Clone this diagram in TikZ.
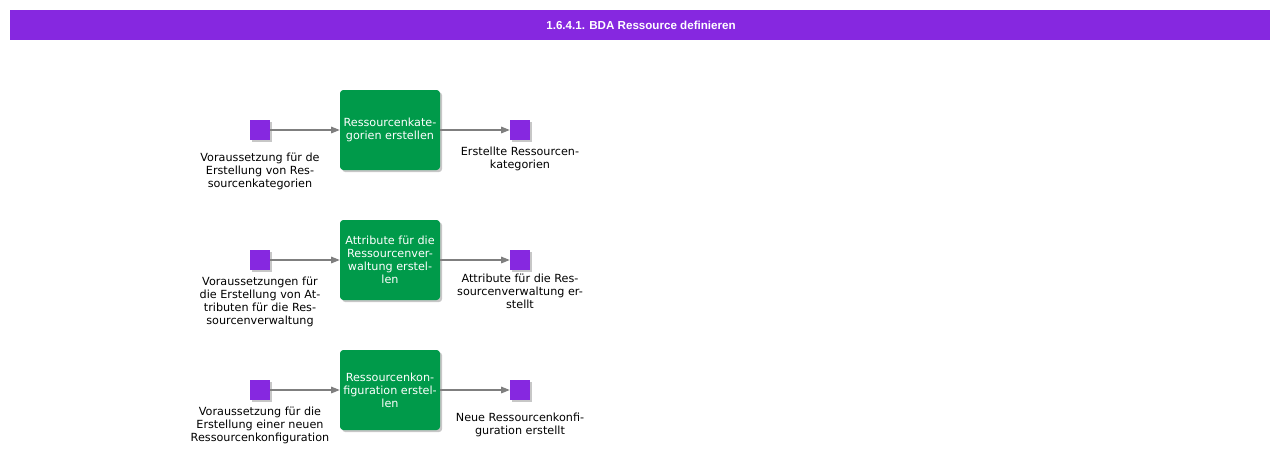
\documentclass[tikz,border=0pt]{standalone}
\usepackage{fontspec}
\setmainfont{DejaVu Sans}
\newfontfamily\headfont{Liberation Sans}
\usetikzlibrary{positioning,shadows,arrows.meta}
\definecolor{bdapurple}{HTML}{8628E0}
\definecolor{bdagreen}{HTML}{009A4A}
\definecolor{bdagray}{HTML}{7F7F7F}
\tikzset{
  soft shadow/.style={drop shadow={shadow xshift=1.6pt,shadow yshift=-1.6pt,opacity=0.22,fill=black}},
  event/.style={fill=bdapurple,minimum size=15pt,inner sep=0pt,soft shadow},
  task/.style={fill=bdagreen,rounded corners=2.5pt,minimum width=75pt,minimum height=60pt,
    inner sep=0pt,align=center,text=white,font=\fontsize{8.4}{9.8}\selectfont,soft shadow},
  caption/.style={align=center,inner sep=0pt,font=\fontsize{8.4}{9.8}\selectfont},
  flow/.style={draw=bdagray,line width=0.8pt,-{Triangle[length=6.5pt,width=5pt]}}
}
\begin{document}
\begin{tikzpicture}[x=0.75pt,y=-0.75pt]
\useasboundingbox (0,0) rectangle (1280,464);

% Title bar
\fill[bdapurple] (10,10) rectangle (1270,40);
\node[text=white,font=\headfont\bfseries\fontsize{8.7}{10}\selectfont] (title) at (641,25) {1.6.4.1. BDA Ressource definieren};

% Row 1
\node[event] (in1) at (260,130) {};
\node[task] (task1) at (390,130) {Ressourcenkate-\\gorien erstellen};
\node[event] (out1) at (520,130) {};
\node[caption,below=9.5pt of in1] (inlabel1) {Voraussetzung für de\\Erstellung von Res-\\sourcenkategorien};
\node[caption,below=4.5pt of out1] (outlabel1) {Erstellte Ressourcen-\\kategorien};
\draw[flow] (in1) -- (task1);
\draw[flow] (task1) -- (out1);

% Row 2
\node[event] (in2) at (260,260) {};
\node[task] (task2) at (390,260) {Attribute für die\\Ressourcenver-\\waltung erstel-\\len};
\node[event] (out2) at (520,260) {};
\node[caption,below=4.5pt of in2] (inlabel2) {Voraussetzungen für\\die Erstellung von At-\\tributen für die Res-\\sourcenverwaltung};
\node[caption,below=2.5pt of out2] (outlabel2) {Attribute für die Res-\\sourcenverwaltung er-\\stellt};
\draw[flow] (in2) -- (task2);
\draw[flow] (task2) -- (out2);

% Row 3
\node[event] (in3) at (260,390) {};
\node[task] (task3) at (390,390) {Ressourcenkon-\\figuration erstel-\\len};
\node[event] (out3) at (520,390) {};
\node[caption,below=4.5pt of in3] (inlabel3) {Voraussetzung für die\\Erstellung einer neuen\\Ressourcenkonfiguration};
\node[caption,below=9.5pt of out3] (outlabel3) {Neue Ressourcenkonfi-\\guration erstellt};
\draw[flow] (in3) -- (task3);
\draw[flow] (task3) -- (out3);
\end{tikzpicture}
\end{document}
